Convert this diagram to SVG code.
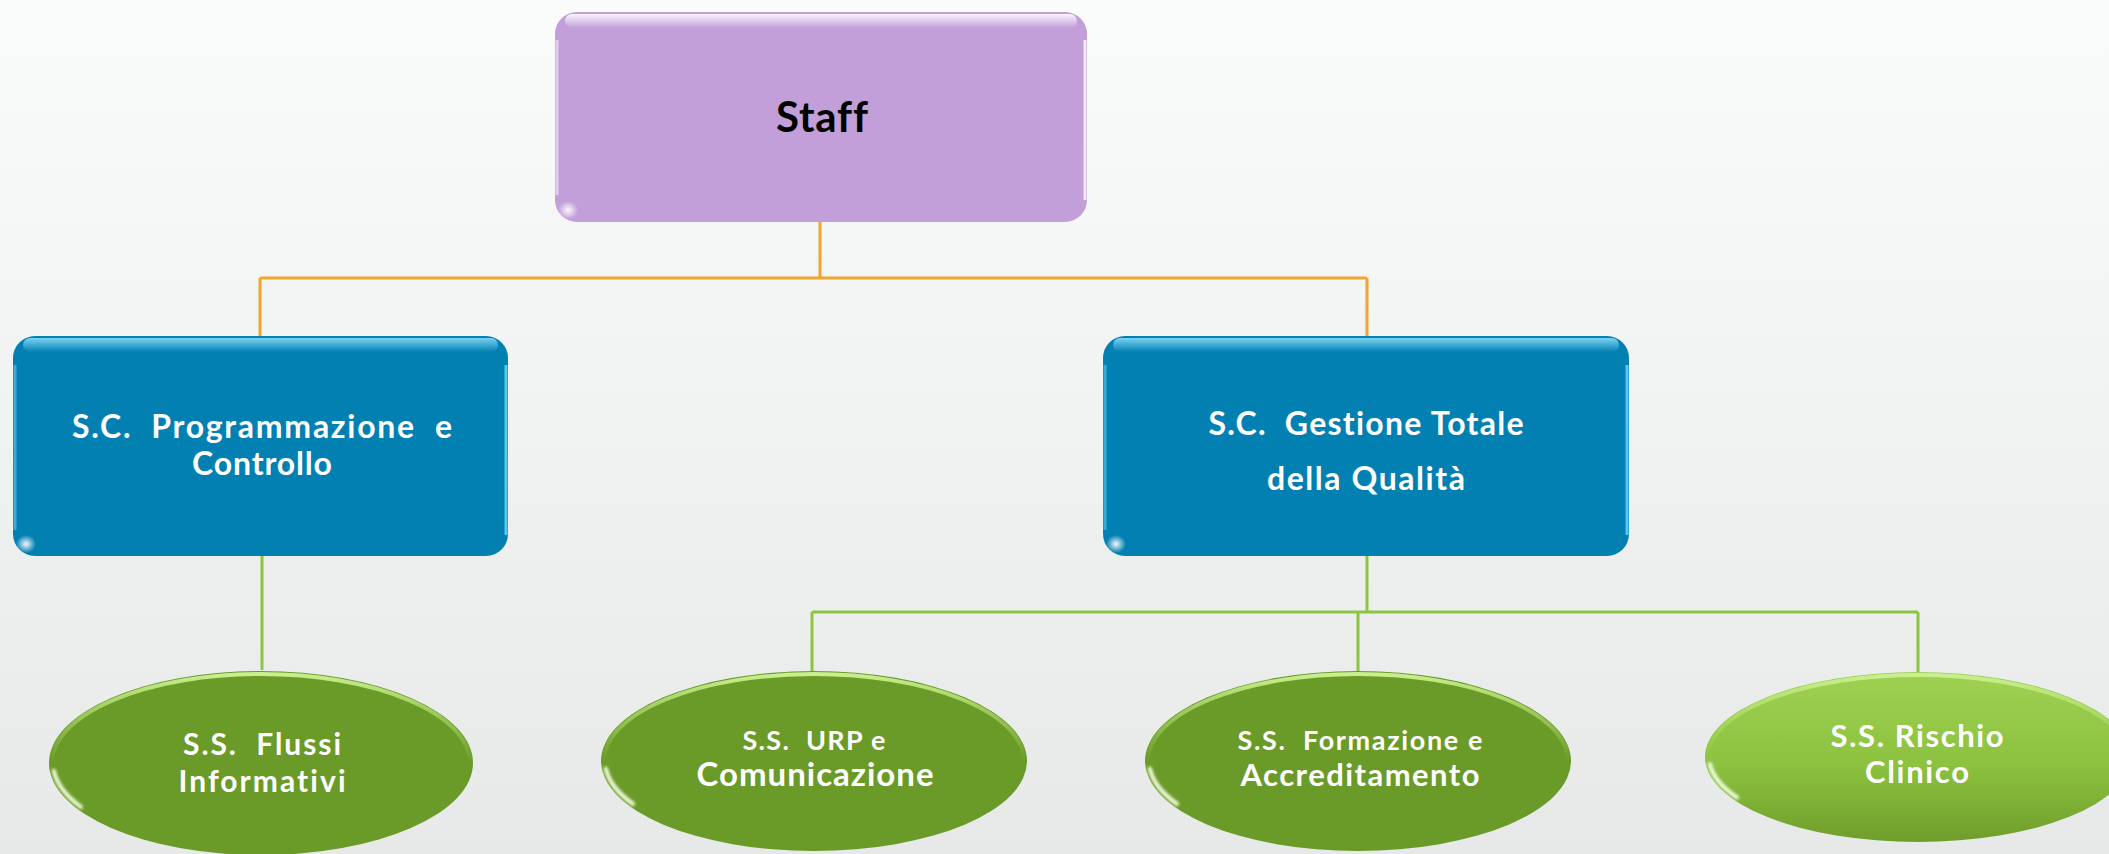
<svg xmlns="http://www.w3.org/2000/svg" width="2109" height="854" viewBox="0 0 2109 854">
<defs>
  <linearGradient id="bg" x1="0" y1="0" x2="0" y2="1">
    <stop offset="0" stop-color="#fafbfb"/>
    <stop offset="1" stop-color="#e7e9e9"/>
  </linearGradient>
  <linearGradient id="purpleHi" x1="0" y1="0" x2="0" y2="1">
    <stop offset="0" stop-color="#ffffff" stop-opacity="0.9"/>
    <stop offset="1" stop-color="#ffffff" stop-opacity="0"/>
  </linearGradient>
  <linearGradient id="blueHi" x1="0" y1="0" x2="0" y2="1">
    <stop offset="0" stop-color="#7fd8f5" stop-opacity="0.95"/>
    <stop offset="1" stop-color="#7fd8f5" stop-opacity="0"/>
  </linearGradient>
  <linearGradient id="greenRim" x1="0" y1="0" x2="0" y2="1">
    <stop offset="0" stop-color="#c8f08e" stop-opacity="1"/>
    <stop offset="0.3" stop-color="#b6e272" stop-opacity="0.5"/>
    <stop offset="0.5" stop-color="#b6e272" stop-opacity="0"/>
    <stop offset="1" stop-color="#b6e272" stop-opacity="0"/>
  </linearGradient>
  <linearGradient id="lightGreen" x1="0" y1="0" x2="0" y2="1">
    <stop offset="0" stop-color="#9fd052"/>
    <stop offset="0.55" stop-color="#8cc23f"/>
    <stop offset="1" stop-color="#6f9d2a"/>
  </linearGradient>
  <radialGradient id="glint" cx="0.5" cy="0.5" r="0.5">
    <stop offset="0" stop-color="#ffffff" stop-opacity="0.95"/>
    <stop offset="1" stop-color="#ffffff" stop-opacity="0"/>
  </radialGradient>
  <filter id="soft" x="-20%" y="-20%" width="140%" height="140%">
    <feGaussianBlur stdDeviation="1.5"/>
  </filter>
</defs>
<style>
  .lbl { font-family: Lato, "Open Sans", "Liberation Sans", sans-serif; font-weight: bold; text-anchor: middle; font-variant-ligatures: none; }
  .w { fill: #ffffff; }
  .k { fill: #000000; }
  .orange { stroke: #f0a62e; stroke-width: 3; fill: none; }
  .green { stroke: #8cc63f; stroke-width: 3; fill: none; }
  .purple { fill: #c29fd9; }
  .blue { fill: #0380b2; }
  .dgreen { fill: #6a9a27; }
  .rim { fill: none; stroke: url(#greenRim); stroke-width: 4; }
  .glintArc { fill: none; stroke: #f4ffe6; stroke-width: 4; stroke-linecap: round; filter: url(#soft); }
</style>
<rect x="0" y="0" width="2109" height="854" fill="url(#bg)"/>

<g id="connectors">
  <path class="orange" d="M820 222 V278 M260 278 H1367 M260 278 V336 M1367 278 V336"/>
  <path class="green" d="M262 556 V670"/>
  <path class="green" stroke-width="4" d="M1367 556 V612"/>
  <path class="green" d="M812 612 H1918 M812 612 V671 M1358 612 V671 M1918 612 V672"/>
</g>

<g id="staff">
  <rect class="purple" x="555" y="12" width="532" height="210" rx="22"/>
  <rect x="565" y="14" width="512" height="14" rx="7" fill="url(#purpleHi)"/>
  <path d="M557 40 V195" stroke="#e2cdf2" stroke-width="3" fill="none"/>
  <path d="M1085 40 V200" stroke="#f3e8fb" stroke-width="3" fill="none"/>
  <ellipse cx="568" cy="210" rx="10" ry="9" fill="url(#glint)"/>
  <text class="lbl k" x="822" y="132" font-size="42" textLength="92">Staff</text>
</g>

<g id="sc_programmazione">
  <rect class="blue" x="13" y="336" width="495" height="220" rx="22"/>
  <rect x="23" y="338" width="475" height="14" rx="7" fill="url(#blueHi)"/>
  <path d="M15 365 V530" stroke="#3aaad6" stroke-width="3" fill="none"/>
  <path d="M506 365 V535" stroke="#5cc6ec" stroke-width="3" fill="none"/>
  <ellipse cx="26" cy="544" rx="10" ry="9" fill="url(#glint)"/>
  <text class="lbl w" x="262" y="438" font-size="32" textLength="380" xml:space="preserve">S.C.  Programmazione  e</text>
  <text class="lbl w" x="262" y="475" font-size="32" textLength="140">Controllo</text>
</g>

<g id="sc_gestione">
  <rect class="blue" x="1103" y="336" width="526" height="220" rx="22"/>
  <rect x="1113" y="338" width="506" height="14" rx="7" fill="url(#blueHi)"/>
  <path d="M1105 365 V530" stroke="#3aaad6" stroke-width="3" fill="none"/>
  <path d="M1627 365 V535" stroke="#5cc6ec" stroke-width="3" fill="none"/>
  <ellipse cx="1116" cy="544" rx="10" ry="9" fill="url(#glint)"/>
  <text class="lbl w" x="1366" y="435" font-size="32" textLength="315" xml:space="preserve">S.C.  Gestione Totale</text>
  <text class="lbl w" x="1366" y="490" font-size="32" textLength="198">della Qualità</text>
</g>

<g id="ss_flussi">
  <ellipse class="dgreen" cx="261" cy="763" rx="212" ry="92"/>
  <ellipse class="rim" cx="261" cy="763" rx="209" ry="89"/>
  <path class="glintArc" d="M53.8 770.7 A208 88 0 0 0 80.9 807"/>
  <text class="lbl w" x="262" y="755" font-size="30" textLength="158" xml:space="preserve">S.S.  Flussi</text>
  <text class="lbl w" x="262" y="792" font-size="30" textLength="167">Informativi</text>
</g>

<g id="ss_urp">
  <ellipse class="dgreen" cx="814" cy="761" rx="213" ry="90"/>
  <ellipse class="rim" cx="814" cy="761" rx="210" ry="87"/>
  <path class="glintArc" d="M605.8 768.5 A209 86 0 0 0 633 804"/>
  <text class="lbl w" x="814" y="750" font-size="27" textLength="143" xml:space="preserve">S.S.  URP e</text>
  <text class="lbl w" x="815" y="786" font-size="33" textLength="237">Comunicazione</text>
</g>

<g id="ss_formazione">
  <ellipse class="dgreen" cx="1358" cy="761" rx="213" ry="90"/>
  <ellipse class="rim" cx="1358" cy="761" rx="210" ry="87"/>
  <path class="glintArc" d="M1149.8 768.5 A209 86 0 0 0 1177 804"/>
  <text class="lbl w" x="1360" y="750" font-size="27" textLength="245" xml:space="preserve">S.S.  Formazione e</text>
  <text class="lbl w" x="1360" y="786" font-size="31" textLength="239">Accreditamento</text>
</g>

<g id="ss_rischio">
  <ellipse cx="1918" cy="757" rx="213" ry="85" fill="url(#lightGreen)"/>
  <ellipse class="rim" cx="1918" cy="757" rx="210" ry="82"/>
  <path class="glintArc" d="M1709.8 764 A209 81 0 0 0 1737 797.5"/>
  <text class="lbl w" x="1917" y="747" font-size="31" textLength="173">S.S. Rischio</text>
  <text class="lbl w" x="1917" y="783" font-size="31" textLength="104">Clinico</text>
</g>
</svg>
